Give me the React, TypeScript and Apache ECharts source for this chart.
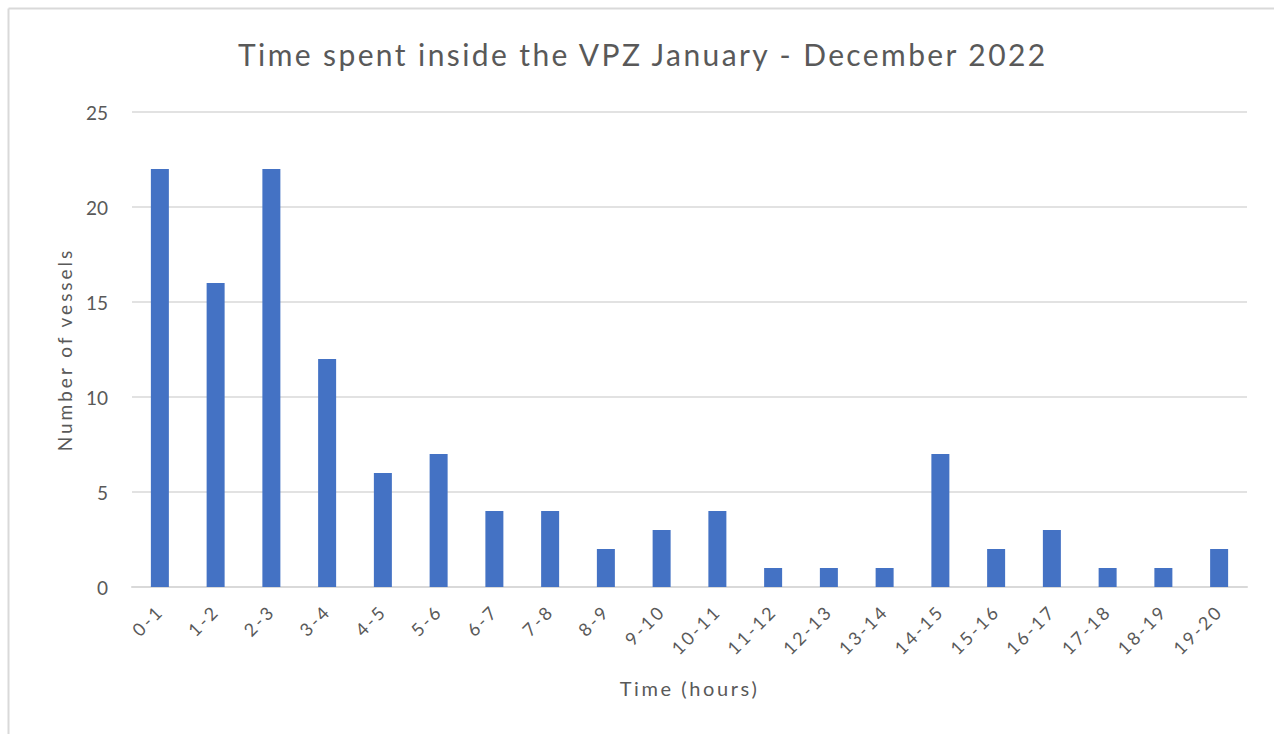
import React, { useEffect, useRef } from "react";
import * as echarts from "echarts";

const categories = ["0-1","1-2","2-3","3-4","4-5","5-6","6-7","7-8","8-9","9-10","10-11","11-12","12-13","13-14","14-15","15-16","16-17","17-18","18-19","19-20"];
const vessels = [22,16,22,12,6,7,4,4,2,3,4,1,1,1,7,2,3,1,1,2];
const yTicks = { min: 0, max: 25, interval: 5 };

const TITLE = "Time spent inside the VPZ January - December 2022";
const X_NAME = "Time (hours)";
const Y_NAME = "Number of vessels";

const FONT = "Lato, 'Open Sans', sans-serif";
const TEXT = "#595959";

export default function App() {
  const ref = useRef<HTMLDivElement>(null);
  useEffect(() => {
    const el = ref.current!;
    const chart = echarts.init(el, undefined, { renderer: "svg" });
    chart.setOption({
      animation: false,
      backgroundColor: "#ffffff",
      textStyle: { fontFamily: FONT },
      title: {
        text: TITLE,
        left: 233,
        top: 34,
        textStyle: { fontFamily: FONT, fontSize: 30, fontWeight: "normal", color: TEXT },
      },
      graphic: [
        { type: "line", shape: { x1: 8.5, y1: 8.5, x2: 1274, y2: 8.5 }, style: { stroke: "#d9d9d9", lineWidth: 2 } },
        { type: "line", shape: { x1: 8.5, y1: 8.5, x2: 8.5, y2: 734 }, style: { stroke: "#d9d9d9", lineWidth: 2 } },
      ],
      grid: { left: 132, right: 27, top: 112, bottom: 147 },
      xAxis: {
        type: "category",
        data: categories,
        name: X_NAME,
        nameLocation: "middle",
        nameGap: 91,
        nameTextStyle: { fontFamily: FONT, fontSize: 20, color: TEXT },
        axisLine: { lineStyle: { color: "#d9d9d9", width: 2 } },
        axisTick: { show: false },
        axisLabel: { rotate: 45, margin: 21, fontFamily: FONT, fontSize: 18, color: TEXT, interval: 0 },
      },
      yAxis: {
        type: "value",
        min: yTicks.min,
        max: yTicks.max,
        interval: yTicks.interval,
        name: Y_NAME,
        nameLocation: "middle",
        nameGap: 58,
        nameTextStyle: { fontFamily: FONT, fontSize: 19, color: TEXT },
        axisLine: { show: false },
        axisTick: { show: false },
        axisLabel: { margin: 24, fontFamily: FONT, fontSize: 19, color: TEXT },
        splitLine: { lineStyle: { color: "#d9d9d9", width: 1.5 } },
      },
      series: [
        {
          type: "bar",
          data: vessels,
          barWidth: 18,
          itemStyle: { color: "#4472C4" },
        },
      ],
    });
    const spacing = () => {
      el.querySelectorAll("text").forEach((t) => {
        const s = (t.textContent || "").trim();
        let ls = "0px";
        if (s === TITLE) ls = "2.4px";
        else if (s === X_NAME) ls = "2.6px";
        else if (s === Y_NAME) ls = "3px";
        else if (categories.includes(s)) ls = "2.5px";
        (t as SVGTextElement).style.letterSpacing = ls;
      });
    };
    spacing();
    chart.on("finished", spacing);
    const timer = setTimeout(spacing, 50);
    return () => {
      clearTimeout(timer);
      chart.dispose();
    };
  }, []);
  return (
    <div style={{ position: "fixed", left: 0, top: 0, width: 1274, height: 734, background: "#fff" }}>
      <div ref={ref} style={{ width: 1274, height: 734 }} />
    </div>
  );
}
